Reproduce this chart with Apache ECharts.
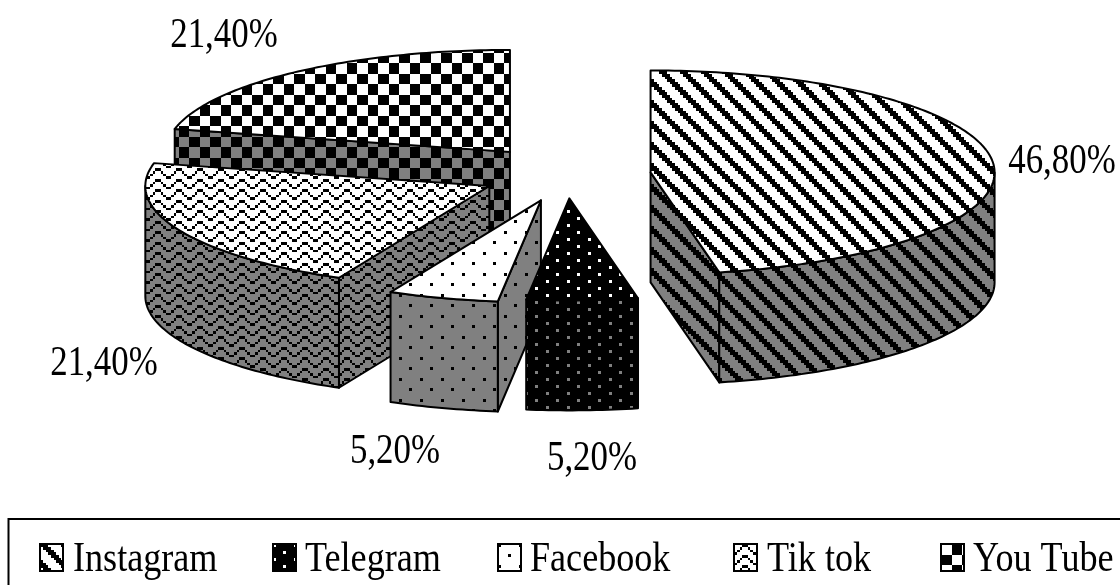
<!DOCTYPE html>
<html>
<head>
<meta charset="utf-8">
<style>html,body{margin:0;padding:0;background:#fff;overflow:hidden}#c{width:1120px;height:585px}</style>
<script src="https://cdn.jsdelivr.net/npm/echarts@6/dist/echarts.min.js"></script>
</head>
<body>
<div id="c"></div>
<script>
// ---- data ----
const categories = ['Instagram', 'Telegram', 'Facebook', 'Tik tok', 'You Tube'];
const values = [46.8, 5.2, 5.2, 21.4, 21.4];
const patternNames = ['stripes', 'darkDots', 'dots', 'wave', 'checker'];

// ---- layout ----
const CX = 566, CY = 172, RX = 344, RY = 102, DEPTH = 110, KY = 0.30;
const explode = [85, 88, 88, 85, 90];
const lift = [3, 0, 3, 3, 1];
const labelPos = [[1062, 162], [592, 459], [395, 452], [104, 364], [224, 36]];
const legendLeft = [39, 272, 497, 733, 940];
const legendTextLeft = [73, 305, 530, 767, 973];
const drawOrder = [4, 0, 3, 2, 1];
const FONT = '"Liberation Serif","Times New Roman",serif';

// ---- pattern tiles ----
const B = 21 / 8;
const wave = ['00011000', '00100100', '01000010', '10000001'];
const painters = {
  stripes: { w: 21, h: 21, hit: (x, y) => { const a = Math.floor(x / B), b = Math.floor(y / B); return ((a - b + 8) % 8) < 3; } },
  checker: { w: 21, h: 21, hit: (x, y) => (Math.floor(x / B) < 4) !== (Math.floor(y / B) < 4) },
  wave: { w: 21, h: 21, hit: (x, y) => wave[Math.floor(y / B) % 4][Math.floor(x / B)] === '1' },
  dots: { w: 21, h: 21, hit: (x, y) => (x < 3 && y < 3) || (x >= 10 && x < 13 && y >= 10 && y < 13) },
  darkDots: { w: 21, h: 14, invert: true, hit: (x, y) => (x < 3 && y < 3) || (x >= 10 && x < 13 && y >= 7 && y < 10) }
};
function tile(name, light) {
  const p = painters[name];
  const cv = document.createElement('canvas');
  cv.width = p.w; cv.height = p.h;
  const g = cv.getContext('2d');
  g.fillStyle = p.invert ? '#000' : light;
  g.fillRect(0, 0, p.w, p.h);
  g.fillStyle = p.invert ? light : '#000';
  for (let y = 0; y < p.h; y++) for (let x = 0; x < p.w; x++) if (p.hit(x, y)) g.fillRect(x, y, 1, 1);
  return { image: cv, repeat: 'repeat' };
}
const topFill = patternNames.map(n => tile(n, '#ffffff'));
const sideFill = patternNames.map(n => tile(n, '#808080'));

// ---- geometry: angles clockwise from 12 o'clock ----
const total = values.reduce((a, b) => a + b, 0);
let acc = 0;
const spans = values.map(v => { const s = acc; acc += v / total * 360; return [s, acc]; });
const rad = d => d * Math.PI / 180;

function renderSlice(i) {
  const [t1, t2] = spans[i];
  const mid = rad((t1 + t2) / 2);
  const ax = CX + explode[i] * Math.sin(mid);
  const ay = CY - explode[i] * KY * Math.cos(mid) + lift[i];
  const rim = t => [ax + RX * Math.sin(rad(t)), ay - RY * Math.cos(rad(t))];
  const down = p => [p[0], p[1] + DEPTH];
  const style = f => ({ fill: f, stroke: '#000', lineWidth: 2, lineJoin: 'round' });
  const kids = [];
  const cut = t => {
    const r = rim(t);
    kids.push({ type: 'polygon', shape: { points: [[ax, ay], r, down(r), [ax, ay + DEPTH]] }, style: style(sideFill[i]) });
  };
  if (Math.sin(rad(t1)) < -1e-6) cut(t1);
  if (Math.sin(rad(t2)) > 1e-6) cut(t2);
  const wa = Math.max(t1, 90), wb = Math.min(t2, 270);
  if (wb > wa) {
    const top = [], bottom = [];
    for (let t = wa; ; t = Math.min(t + 1, wb)) { top.push(rim(t)); bottom.unshift(down(rim(t))); if (t >= wb) break; }
    kids.push({ type: 'polygon', shape: { points: top.concat(bottom) }, style: style(sideFill[i]) });
  }
  const face = [[ax, ay]];
  for (let t = t1; ; t = Math.min(t + 1, t2)) { face.push(rim(t)); if (t >= t2) break; }
  kids.push({ type: 'polygon', shape: { points: face }, style: style(topFill[i]) });
  kids.push({
    type: 'text',
    x: labelPos[i][0], y: labelPos[i][1], scaleX: 0.83,
    style: {
      text: values[i].toFixed(2).replace('.', ',') + '%',
      align: 'center', verticalAlign: 'middle',
      font: '42px ' + FONT, fill: '#000'
    }
  });
  return { type: 'group', children: kids };
}

const option = {
  animation: false,
  backgroundColor: '#fff',
  graphic: [{
    type: 'rect', silent: true, z: -1,
    shape: { x: 8.5, y: 519, width: 1200, height: 200 },
    style: { fill: '#fff', stroke: '#000', lineWidth: 2 }
  }].concat(categories.map((name, i) => ({
    type: 'text', silent: true,
    x: legendTextLeft[i], y: 560, scaleX: 0.86,
    style: { text: name, align: 'left', verticalAlign: 'middle', font: '42px ' + FONT, fill: '#000' }
  }))),
  legend: categories.map((name, i) => ({
    data: [name], left: legendLeft[i], top: 543, padding: 0,
    itemWidth: 23, itemHeight: 27, selectedMode: false, icon: 'rect',
    formatter: () => '',
    textStyle: { fontFamily: FONT, fontSize: 10, color: '#000' }
  })),
  series: drawOrder.map(i => ({
    type: 'custom',
    name: categories[i],
    coordinateSystem: 'none',
    silent: true,
    itemStyle: { color: topFill[i], borderColor: '#000', borderWidth: 1.5 },
    data: [values[i]],
    renderItem: () => renderSlice(i)
  }))
};
echarts.init(document.getElementById('c'), null, { renderer: 'canvas' }).setOption(option);
</script>
</body>
</html>
